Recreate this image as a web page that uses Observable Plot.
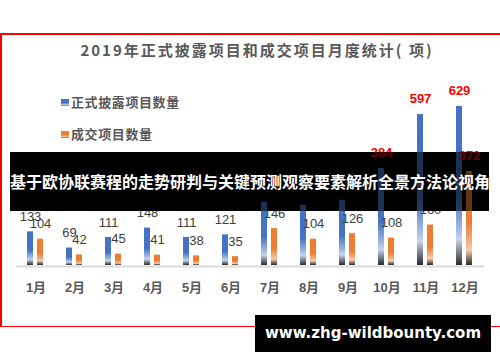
<!DOCTYPE html>
<html><head><meta charset="utf-8">
<script src="https://cdn.jsdelivr.net/npm/d3@7"></script>
<script src="https://cdn.jsdelivr.net/npm/@observablehq/plot@0.6"></script>
<style>
body{margin:0;background:#fff;}
#wrap{position:relative;width:500px;height:362px;overflow:hidden;background:#fff;font-family:"Noto Sans CJK SC",sans-serif;}
#frame{position:absolute;left:0;top:33px;width:600px;height:294px;box-sizing:border-box;border-left:2px solid #ff0000;border-top:2px solid #ff0000;border-bottom:1px solid #ff0000;}
#title{position:absolute;left:0;width:514px;top:40px;text-align:center;font-size:15px;font-weight:bold;color:#595959;letter-spacing:2px;line-height:20px;white-space:nowrap;}
.leg{position:absolute;left:61px;font-size:13px;font-weight:bold;color:#595959;letter-spacing:0.6px;line-height:18px;white-space:nowrap;}
.sw{display:inline-block;width:8px;height:7px;margin-right:2px;vertical-align:middle;position:relative;top:-1px;}
#chart,#ghost{position:absolute;left:0;top:0;}
#banner{position:absolute;left:10px;top:152px;width:479px;height:59px;background:#000;}
#ghost{opacity:0.42;clip-path:inset(152px 11px 151px 10px);}
#btext{position:absolute;left:10px;top:152px;width:479px;height:59px;line-height:59px;text-align:center;color:#fff;font-size:16px;font-weight:bold;white-space:nowrap;text-shadow:0 0 1px #000;}
#wm{position:absolute;left:255px;top:315px;width:236px;height:37px;background:#000;color:#fff;font-family:"DejaVu Sans",sans-serif;font-weight:bold;font-size:15px;line-height:37px;text-align:center;white-space:nowrap;}
</style></head>
<body>
<div id="wrap">
  <div id="frame"></div>
  <div id="title">2019年正式披露项目和成交项目月度统计( 项)</div>
  <div class="leg" style="top:93px"><span class="sw" style="background:linear-gradient(#4472c4 0 55%,#9db4e0 75%,#c9d5ee 85%,#555 100%)"></span><span id="l1"></span></div>
  <div class="leg" style="top:125px"><span class="sw" style="background:linear-gradient(#ed7d31 0 55%,#f4b183 75%,#f8cbad 85%,#555 100%)"></span><span id="l2"></span></div>
  <div id="chart"></div>
  <div id="banner"></div>
  <div id="ghost"></div>
  <div id="btext">基于欧协联赛程的走势研判与关键预测观察要素解析全景方法论视角</div>
  <div id="wm">www.zhg-wildbounty.com</div>
</div>
<script>
const months = ["1月","2月","3月","4月","5月","6月","7月","8月","9月","10月","11月","12月"];
const series = ["正式披露项目数量","成交项目数量"];
const disclosed = [133,69,111,148,111,121,250,238,258,384,597,629];
const traded = [104,42,45,41,38,35,146,104,126,108,160,372];

document.getElementById("l1").textContent = series[0];
document.getElementById("l2").textContent = series[1];

const data = months.flatMap((m,i)=>[
  {month:m, series:series[0], value:disclosed[i]},
  {month:m, series:series[1], value:traded[i]}
]);

const chart = Plot.plot({
  width:500, height:362,
  marginLeft:12, marginRight:13, marginTop:88, marginBottom:97,
  fx:{domain:months, padding:0, axis:null, label:null},
  x:{domain:series, paddingInner:0.364, paddingOuter:0.98, axis:null},
  y:{domain:[0,700], axis:null},
  style:{background:"transparent", fontFamily:"'Liberation Sans','Noto Sans CJK SC',sans-serif", overflow:"visible"},
  marks:[
    Plot.ruleY([0], {stroke:"#d9d9d9", strokeWidth:2, dy:1}),
    Plot.barY(data.filter(d=>d.series===series[0]), {fx:"month", x:"series", y:"value", fill:"url(#gBlue)"}),
    Plot.barY(data.filter(d=>d.series===series[1]), {fx:"month", x:"series", y:"value", fill:"url(#gOrange)"}),
    Plot.text(data.filter(d=>d.value<=300), {fx:"month", x:"series", y:"value", text:"value", dy:-15, lineAnchor:"middle", fill:"#404040", fontSize:13, className:"lbl-gray"}),
    Plot.text(data.filter(d=>d.value>300), {fx:"month", x:"series", y:"value", text:"value", dy:-16, lineAnchor:"middle", fill:"#ff0000", fontSize:13, fontWeight:"bold", letterSpacing:1, className:"lbl-red"}),
    Plot.text(months, {fx:d=>d, text:d=>d, frameAnchor:"bottom", dy:22, lineAnchor:"middle", fill:"#595959", fontSize:13, fontWeight:"bold", letterSpacing:1.5, className:"mlbl"})
  ]
});

const NS = "http://www.w3.org/2000/svg";
function grad(id, c1, c2, c3){
  const g = document.createElementNS(NS,"linearGradient");
  g.setAttribute("id", id); g.setAttribute("x1","0"); g.setAttribute("y1","0"); g.setAttribute("x2","0"); g.setAttribute("y2","1");
  [[0,c1],[0.55,c1],[0.76,c2],[0.84,c3],[1,"#2a2a2a"]].forEach(([o,c])=>{
    const s = document.createElementNS(NS,"stop"); s.setAttribute("offset", o); s.setAttribute("stop-color", c); g.appendChild(s);
  });
  return g;
}
const defs = document.createElementNS(NS,"defs");
defs.appendChild(grad("gBlue","#4472c4","#9db4e0","#c9d5ee"));
defs.appendChild(grad("gOrange","#ed7d31","#f4b183","#f8cbad"));
chart.insertBefore(defs, chart.firstChild);
document.getElementById("chart").appendChild(chart);

const ghost = chart.cloneNode(true);
ghost.querySelectorAll("defs").forEach(n=>n.remove());
ghost.querySelectorAll(".lbl-gray, .mlbl").forEach(n=>n.remove());
ghost.setAttribute("aria-hidden","true");
document.getElementById("ghost").appendChild(ghost);
</script>
</body></html>
